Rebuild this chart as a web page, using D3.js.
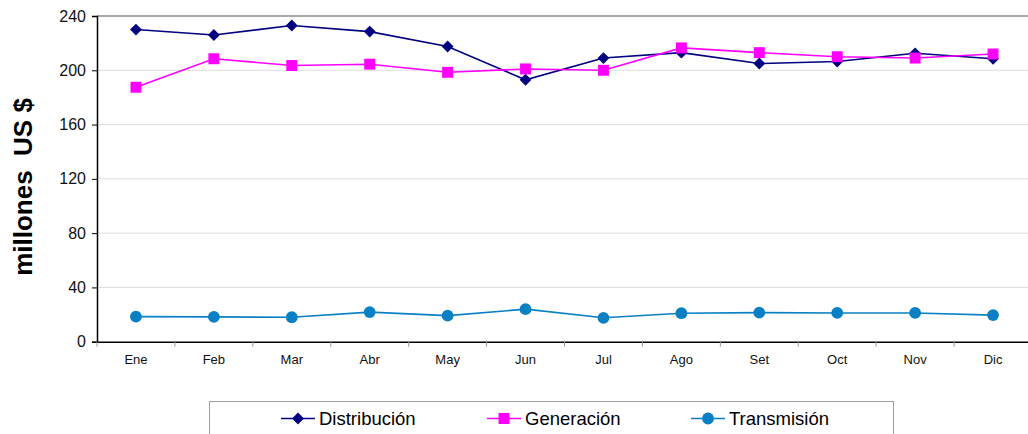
<!DOCTYPE html>
<html><head><meta charset="utf-8">
<script src="https://cdn.jsdelivr.net/npm/d3@7"></script>
<style>body{margin:0;background:#fff;}svg{display:block;font-family:"Liberation Sans",Arial,sans-serif;}</style>
</head><body><svg id="c" width="1028" height="434"></svg>
<script>
const months = ["Ene","Feb","Mar","Abr","May","Jun","Jul","Ago","Set","Oct","Nov","Dic"];
const distribucion = [230, 226, 233, 228.5, 217.5, 193, 209, 213, 205, 206.5, 212.5, 208.5];
const generacion   = [187.5, 208.5, 203.5, 204.5, 198.5, 201, 200, 216.5, 213, 210, 209, 212];
const transmision  = [18.5, 18.3, 18, 21.8, 19.2, 24, 17.6, 21, 21.4, 21.2, 21.2, 19.6];
const yTicks = [0, 40, 80, 120, 160, 200, 240];
const seriesNames = ["Distribución", "Generación", "Transmisión"];
const seriesColors = ["#000080", "#FF00FF", "#0A80C4"];

// square-ish diamond symbol
const squareDiamond = { draw(ctx, size) { const r = Math.sqrt(size / 2); ctx.moveTo(0, -r); ctx.lineTo(r, 0); ctx.lineTo(0, r); ctx.lineTo(-r, 0); ctx.closePath(); } };
const seriesSymbols = [squareDiamond, d3.symbolSquare, d3.symbolCircle];

const svg = d3.select("#c");
const x = d3.scaleBand().domain(months).range([97, 1032]);
const y = d3.scaleLinear().domain([0, 240]).range([341.7, 16]);

svg.append("g").selectAll("line").data(yTicks.filter(t => t > 0 && t < 240)).join("line")
  .attr("x1", 97).attr("x2", 1028).attr("y1", d => y(d)).attr("y2", d => y(d))
  .attr("stroke", "#dedede").attr("stroke-width", 1);
svg.append("line").attr("x1", 97).attr("x2", 1028).attr("y1", y(240)).attr("y2", y(240))
  .attr("stroke", "#8c8c8c").attr("stroke-width", 1.5);

const yAxis = svg.append("g").attr("transform", "translate(97,0)")
  .call(d3.axisLeft(y).tickValues(yTicks).tickSize(5).tickPadding(6).tickFormat(d3.format("d")));
yAxis.select(".domain").attr("stroke", "#000").attr("stroke-width", 1.5);
yAxis.selectAll(".tick line").attr("stroke", "#000");
yAxis.selectAll("text").attr("font-size", 16).attr("fill", "#111").attr("font-family", "Liberation Sans, Arial, sans-serif");

const xAxis = svg.append("g").attr("transform", `translate(0,${y(0)})`)
  .call(d3.axisBottom(x).tickSize(0).tickPadding(13));
xAxis.select(".domain").attr("stroke", "#000").attr("stroke-width", 1.5);
xAxis.selectAll("text").attr("font-size", 13).attr("fill", "#111").attr("font-family", "Liberation Sans, Arial, sans-serif");
svg.append("g").selectAll("line").data(months).join("line")
  .attr("x1", d => x(d)).attr("x2", d => x(d)).attr("y1", y(0)).attr("y2", y(0) + 5)
  .attr("stroke", "#999");

svg.append("text").attr("transform", "translate(32,187) rotate(-90)")
  .attr("text-anchor", "middle").attr("font-size", 26).attr("font-weight", "bold")
  .attr("fill", "#000").text("millones\u00a0\u00a0US $");

const allSeries = [distribucion, generacion, transmision];
const cx = d => x(d) + x.bandwidth() / 2;
const line = d3.line().x((d, i) => cx(months[i])).y(d => y(d));
const symSizes = [70, 120, 110];

allSeries.forEach((vals, si) => {
  svg.append("path").datum(vals).attr("d", line).attr("fill", "none")
    .attr("stroke", seriesColors[si]).attr("stroke-width", 1.6);
});
allSeries.forEach((vals, si) => {
  svg.append("g").selectAll("path").data(vals).join("path")
    .attr("transform", (d, i) => `translate(${cx(months[i])},${y(d)})`)
    .attr("d", d3.symbol().type(seriesSymbols[si]).size(symSizes[si]))
    .attr("fill", seriesColors[si]);
});

const lg = svg.append("g");
lg.append("rect").attr("x", 209.5).attr("y", 401.5).attr("width", 684).attr("height", 40)
  .attr("fill", "#fff").attr("stroke", "#a0a0a0").attr("stroke-width", 1);
const legendX = [281, 487, 691];
seriesNames.forEach((name, si) => {
  const g = lg.append("g").attr("transform", `translate(${legendX[si]},418.5)`);
  g.append("line").attr("x1", 0).attr("x2", 34).attr("stroke", seriesColors[si]).attr("stroke-width", 1.6);
  g.append("path").attr("transform", "translate(17,0)")
    .attr("d", d3.symbol().type(seriesSymbols[si]).size(symSizes[si])).attr("fill", seriesColors[si]);
  g.append("text").attr("x", 38).attr("y", 6.5).attr("font-size", 18.5).attr("fill", "#000").text(name);
});
</script></body></html>
